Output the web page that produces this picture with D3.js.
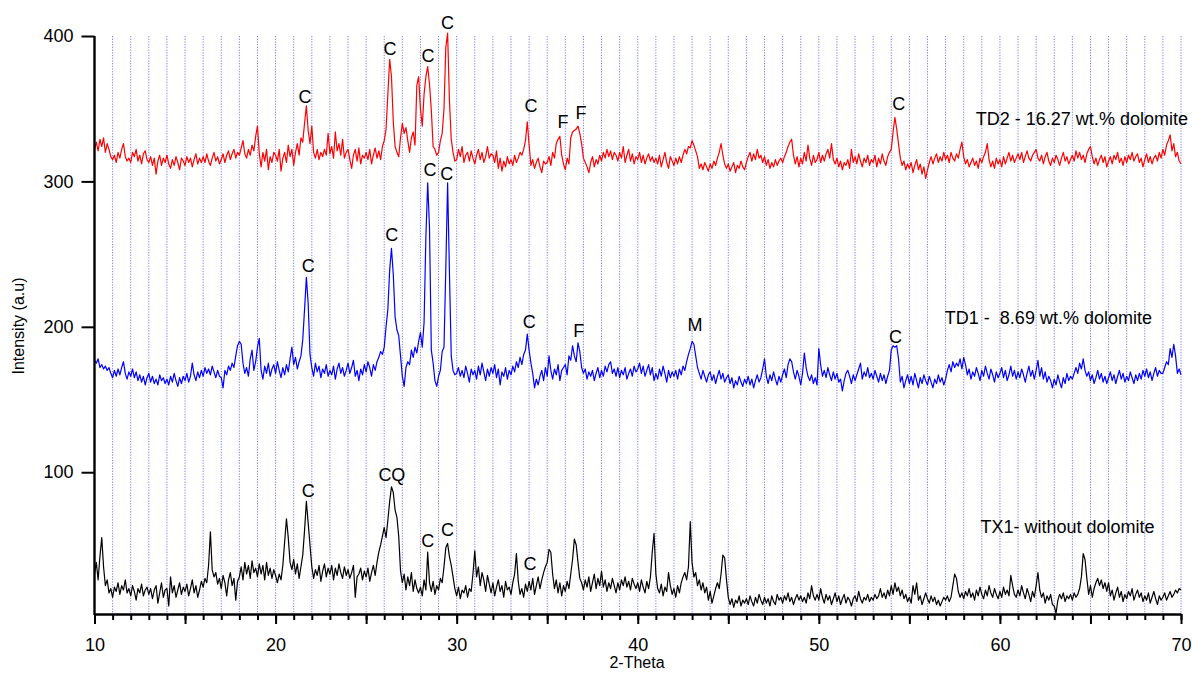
<!DOCTYPE html>
<html>
<head>
<meta charset="utf-8">
<script src="https://cdn.jsdelivr.net/npm/d3@7/dist/d3.min.js"></script>
<style>
  html, body { margin: 0; padding: 0; background: #fff; }
  svg { display: block; }
  text { font-family: "Liberation Sans", Arial, sans-serif; fill: #000; }
</style>
</head>
<body>
<svg id="chart" width="1192" height="677"></svg>
<script>
// 2-Theta scan: 10.0 to 70.0 deg, 0.1 deg step (one row of ten per degree)
const thetaStart = 10, thetaStep = 0.1, thetaCount = 601;

// TD2 - 16.27 wt.% dolomite
const td2 = [
322,327,321,329,324,330,320,326,322,317,
315,318,313,320,316,322,326,317,314,316,
313,320,317,322,314,318,312,319,321,315,
313,317,311,316,305,314,318,311,316,313,
318,312,309,315,311,317,313,308,316,314,
311,317,313,316,310,315,319,312,316,313,
317,313,319,314,311,316,320,314,317,312,
315,319,313,318,321,315,319,322,316,320,
318,323,328,319,316,322,318,325,321,331,
338,319,310,320,314,322,308,317,313,320,
318,314,322,307,316,320,313,325,317,322,
311,320,326,318,330,327,340,352,335,326,
338,320,316,322,315,320,317,322,318,333,
319,324,316,334,321,326,318,329,316,320,
322,315,309,318,322,314,323,312,318,316,
320,315,322,312,318,323,316,321,315,324,
328,336,360,384,372,341,324,320,317,330,
340,333,337,328,320,330,334,325,366,372,
350,338,360,372,379,367,349,324,322,318,
320,328,333,350,392,402,356,329,320,314,
315,322,317,324,313,318,320,314,321,316,
312,318,322,315,320,313,317,324,316,319,
318,313,321,309,316,307,314,310,317,312,
315,311,318,313,316,320,318,322,328,341,
325,311,315,309,313,316,310,306,314,312,
313,317,311,320,316,326,329,331,318,312,
308,316,312,330,334,335,336,338,333,326,
316,313,310,306,313,317,310,315,312,318,
314,320,316,322,317,321,315,320,318,314,
320,316,324,313,318,322,314,319,312,317,
315,320,313,318,312,316,319,314,317,313,
316,312,318,310,315,320,313,309,317,314,
311,316,312,317,313,318,322,319,324,323,
328,325,321,317,309,312,308,313,310,307,
312,309,314,311,316,320,326,318,312,309,
312,307,310,313,306,311,309,314,310,308,
313,317,320,314,319,315,322,316,318,313,
317,311,315,309,313,310,315,311,314,316,
313,317,320,324,327,329,318,312,317,310,
316,312,320,314,325,316,311,318,313,315,
320,313,318,314,319,322,316,326,315,312,
316,310,314,308,313,311,315,309,322,313,
317,312,319,314,310,316,313,318,311,315,
313,318,310,316,312,319,314,311,317,320,
322,334,344,336,326,316,311,314,308,312,
309,313,306,311,315,308,312,305,310,302,
308,313,317,312,316,319,313,317,314,320,
315,318,313,320,316,314,319,316,322,327,
317,312,315,310,313,316,311,314,309,316,
313,317,320,326,315,310,314,309,316,312,
315,310,317,312,316,320,314,318,313,316,
319,315,320,313,317,321,316,314,318,320,
322,316,314,318,312,317,320,314,311,316,
313,318,315,311,316,320,314,317,312,315,
318,314,321,316,320,315,318,313,319,322,
324,317,312,316,311,315,318,313,317,310,
314,317,312,318,315,320,313,316,311,317,
313,318,315,320,314,317,319,313,316,310,
315,319,313,317,312,316,318,314,320,316,
322,318,325,328,332,321,326,317,320,314,
312];

// TD1 - 8.69 wt.% dolomite
const td1 = [
177,175,178,172,174,171,173,170,172,168,
165,170,166,171,167,172,176,168,164,169,
166,171,165,169,163,167,162,166,160,165,
168,162,166,161,164,160,167,163,165,161,
164,160,166,162,168,163,159,165,161,166,
163,168,162,166,175,167,163,169,165,170,
166,172,168,171,167,173,169,165,170,166,
165,158,170,167,173,170,175,172,180,187,
190,188,175,168,172,166,178,184,170,176,
186,192,170,164,173,168,175,166,171,174,
168,176,170,165,172,167,174,169,178,186,
174,179,171,176,180,191,212,234,216,181,
172,166,175,169,173,165,171,168,174,166,
170,167,173,164,171,175,168,172,166,170,
175,168,172,177,166,170,163,171,167,174,
169,176,172,166,174,170,176,179,183,181,
186,200,212,239,254,236,207,198,194,180,
166,159,172,176,174,184,179,186,182,190,
196,186,203,262,299,268,184,175,163,159,
166,170,183,186,240,299,238,180,170,167,
168,172,166,170,165,173,168,162,171,167,
170,164,173,167,175,169,163,171,166,172,
168,174,165,171,160,169,166,172,164,170,
167,173,169,176,172,179,174,181,184,195,
184,175,168,158,164,160,166,170,163,172,
166,180,170,164,171,167,174,163,170,172,
174,167,180,177,187,180,176,189,183,172,
168,171,164,169,166,170,163,168,172,165,
170,166,173,169,174,176,168,171,166,172,
165,170,167,172,164,168,171,166,173,169,
171,175,168,173,166,170,174,167,172,163,
168,164,171,166,173,168,162,170,165,169,
166,170,164,171,167,173,170,176,181,185,
190,188,180,172,168,164,170,166,162,167,
169,163,167,161,166,170,164,168,162,165,
167,161,165,158,163,160,166,162,159,164,
161,166,160,164,158,163,167,162,165,171,
178,166,161,167,163,169,164,160,166,162,
167,171,165,174,178,176,169,164,170,166,
160,168,182,172,166,163,167,161,165,160,
185,174,166,170,165,172,167,163,169,164,
168,162,164,156,163,168,170,166,161,167,
163,167,171,175,164,169,166,172,165,168,
164,170,166,162,168,163,167,161,166,170,
184,187,186,187,178,162,166,158,163,167,
161,166,160,168,163,158,165,161,167,163,
160,166,162,158,164,161,167,162,165,160,
164,170,174,169,176,172,175,173,178,171,
179,174,167,171,164,169,166,172,168,163,
170,166,173,168,164,171,167,162,169,165,
168,172,165,170,163,167,173,166,170,164,
169,165,171,167,162,168,173,166,170,164,
170,177,166,172,164,169,162,166,163,158,
164,160,167,162,158,165,161,168,163,166,
164,168,172,168,175,171,178,170,166,169,
163,167,161,165,170,164,168,162,166,161,
165,169,163,167,161,166,170,164,168,162,
166,163,169,165,161,167,163,168,164,170,
166,171,165,169,163,168,172,166,170,168,
168,172,176,174,185,179,188,180,168,171,
167];

// TX1 - without dolomite
const tx1 = [
30,38,26,42,55,35,22,26,17,20,
14,21,18,24,16,22,19,26,17,20,
15,22,18,12,20,17,23,15,19,21,
16,20,13,19,22,10,17,24,14,19,
20,8,28,17,22,14,19,24,16,21,
18,23,15,20,26,17,22,14,19,25,
21,27,24,36,59,33,28,31,23,27,
20,29,24,15,26,31,22,27,12,25,
28,35,26,38,30,36,27,39,31,34,
28,37,30,36,26,38,29,34,27,33,
29,24,30,26,36,52,68,55,38,33,
40,30,37,27,35,43,60,80,65,50,
35,27,33,29,36,25,32,37,28,34,
30,36,26,34,29,37,31,27,35,29,
33,27,31,36,14,28,30,34,26,32,
28,34,25,31,36,29,38,45,50,56,
62,55,67,80,90,86,74,69,56,32,
24,30,19,28,22,31,18,26,20,17,
21,15,26,19,45,24,18,25,16,22,
19,27,24,35,48,51,42,36,28,20,
15,21,13,19,17,22,14,20,18,30,
46,28,35,22,31,26,18,29,23,17,
24,15,21,26,18,22,14,25,19,21,
16,24,30,44,25,16,20,14,23,18,
25,19,27,16,22,28,20,26,31,35,
38,47,45,30,20,26,17,24,15,22,
18,25,20,30,40,54,50,38,27,24,
19,26,21,28,18,24,30,20,27,22,
32,21,26,18,24,20,27,22,17,24,
19,26,22,28,21,25,19,27,23,20,
24,18,26,21,17,25,20,28,45,58,
30,20,17,23,15,21,18,31,22,16,
20,14,22,17,24,28,31,26,35,66,
38,28,31,22,26,19,24,17,21,12,
18,10,15,20,24,20,30,43,41,26,
14,9,13,7,12,10,15,8,12,10,
13,9,15,11,8,14,10,16,12,9,
14,10,13,8,15,11,9,16,12,14,
10,15,12,17,11,14,9,13,16,12,
15,11,14,10,17,13,22,15,12,16,
12,20,14,10,16,12,15,9,13,17,
11,15,9,13,16,10,14,12,8,13,
15,11,18,13,10,14,12,16,11,14,
12,16,13,15,20,14,17,13,19,15,
22,16,24,18,21,15,19,13,16,11,
14,10,22,16,24,12,15,9,13,17,
13,10,15,11,14,9,12,8,11,14,
12,15,11,14,22,30,27,18,14,17,
13,18,15,20,14,17,12,19,15,21,
16,13,19,15,22,17,14,20,16,13,
18,14,21,16,19,15,29,22,16,14,
19,15,22,17,13,20,16,11,18,14,
22,31,19,14,17,10,15,12,16,9,
8,3,12,16,13,17,11,15,13,16,
12,17,14,16,20,28,44,40,27,16,
22,14,20,24,27,22,26,20,24,18,
24,15,19,12,17,21,14,18,11,16,
13,18,15,20,12,16,19,14,17,11,
15,12,17,10,14,18,13,9,15,12,
14,17,12,15,18,14,16,19,17,20,
19];

// Phase markers: [2-Theta, intensity level of the letter, letter]
// C = calcite, F = feldspar, M = mica, Q = quartz
const td2Marks = [[21.62,358,"C"],[26.32,391,"C"],[28.42,386,"C"],[29.50,409,"C"],
                  [34.10,352,"C"],[35.87,341,"F"],[36.86,347,"F"],[54.42,353,"C"]];
const td1Marks = [[21.81,242,"C"],[26.41,263,"C"],[28.53,308,"C"],[29.45,305,"C"],
                  [34.01,203,"C"],[36.74,197,"F"],[43.16,201,"M"],[54.24,193,"C"]];
const tx1Marks = [[21.81,87,"C"],[26.04,98,"C"],[26.78,98,"Q"],[28.40,53,"C"],
                  [29.50,60,"C"],[34.05,37,"C"]];

// Sample names: [2-Theta of text start, intensity level, text]
const sampleNames = [[58.67,343,"TD2 - 16.27 wt.% dolomite"],
                     [56.96,206,"TD1 -  8.69 wt.% dolomite"],
                     [58.93,62,"TX1- without dolomite"]];

const xTicksMajor = [10,15,20,25,30,35,40,45,50,55,60,65,70];
const yTicks = [100,200,300,400];

// ---- drawing ----
const svg = d3.select("#chart");
const x = d3.scaleLinear().domain([10, 70]).range([94.5, 1181]);
const y = d3.scaleLinear().domain([2.5, 400]).range([614, 36]);

const theta = d3.range(thetaCount).map(i => thetaStart + i * thetaStep);

// dotted vertical grid at every degree
svg.append("g").selectAll("line")
  .data(d3.range(11, 71))
  .join("line")
  .attr("x1", d => x(d)).attr("x2", d => x(d))
  .attr("y1", y(400)).attr("y2", y(2.5))
  .attr("stroke", "#8080ff")
  .attr("stroke-width", 1)
  .attr("stroke-dasharray", "1.3,1.4");

const line = d3.line()
  .x((d, i) => x(theta[i]))
  .y(d => y(d));

const series = [
  {values: tx1, color: "#000000"},
  {values: td1, color: "#0000ff"},
  {values: td2, color: "#ff0000"}
];
svg.append("g").selectAll("path")
  .data(series)
  .join("path")
  .attr("d", d => line(d.values))
  .attr("fill", "none")
  .attr("stroke", d => d.color)
  .attr("stroke-width", 1.2)
  .attr("stroke-linejoin", "round");

// x axis: minor ticks each degree, major every 5, labels every 10
const xMinor = svg.append("g").attr("transform", `translate(0,${y(2.5)})`)
  .call(d3.axisBottom(x).tickValues(d3.range(10, 71)).tickSize(6).tickFormat(""));
xMinor.select(".domain").remove();
const xAxis = svg.append("g").attr("transform", `translate(0,${y(2.5)})`)
  .call(d3.axisBottom(x).tickValues(xTicksMajor).tickSize(10).tickSizeOuter(0)
        .tickPadding(14).tickFormat(d => d % 10 === 0 ? d : ""));
svg.selectAll(".tick line").attr("stroke", "#000").attr("stroke-width", 2);
xAxis.select(".domain").attr("stroke", "#000").attr("stroke-width", 2.4);
xAxis.selectAll("text").style("font-size", "18px").style("font-family", "'Liberation Sans', Arial, sans-serif");

// y axis
const yAxis = svg.append("g").attr("transform", `translate(${x(10)},0)`)
  .call(d3.axisLeft(y).tickValues(yTicks).tickSize(13).tickSizeOuter(0).tickPadding(8));
yAxis.select(".domain").attr("stroke", "#000").attr("stroke-width", 2.4)
  .attr("d", `M0,${y(400)}V${y(2.5) + 1}`);
yAxis.selectAll(".tick line").attr("stroke", "#000").attr("stroke-width", 2);
yAxis.selectAll("text").style("font-size", "18px").style("font-family", "'Liberation Sans', Arial, sans-serif");

// axis titles
svg.append("text")
  .attr("x", 637).attr("y", 668)
  .attr("text-anchor", "middle")
  .style("font-size", "16px")
  .text("2-Theta");
svg.append("text")
  .attr("transform", `translate(24,${326}) rotate(-90)`)
  .attr("text-anchor", "middle")
  .style("font-size", "16px")
  .text("Intensity (a.u)");

// phase letters
const marks = td2Marks.concat(td1Marks, tx1Marks);
svg.append("g").selectAll("text")
  .data(marks)
  .join("text")
  .attr("x", d => x(d[0]))
  .attr("y", d => y(d[1]))
  .attr("text-anchor", "middle")
  .attr("dominant-baseline", "central")
  .style("font-size", "18px")
  .text(d => d[2]);

// sample names
svg.append("g").selectAll("text")
  .data(sampleNames)
  .join("text")
  .attr("x", d => x(d[0]))
  .attr("y", d => y(d[1]))
  .attr("dominant-baseline", "central")
  .attr("xml:space", "preserve")
  .style("white-space", "pre")
  .style("font-size", "18px")
  .text(d => d[2]);
</script>
</body>
</html>
